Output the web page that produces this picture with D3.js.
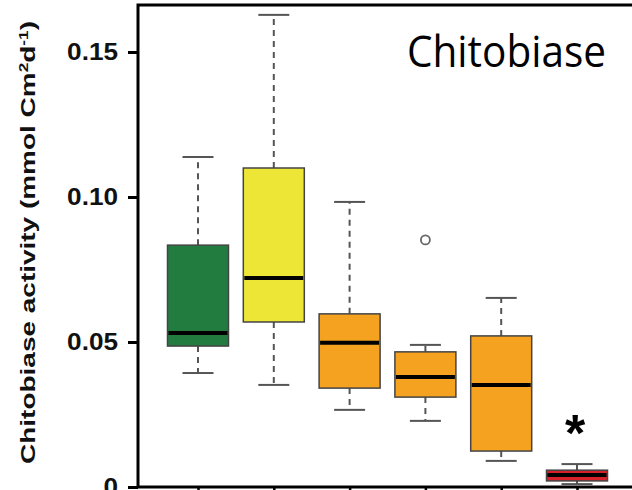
<!DOCTYPE html>
<html>
<head>
<meta charset="utf-8">
<script src="https://cdn.jsdelivr.net/npm/d3@7"></script>
<style>
  body { margin: 0; background: #fff; }
  svg { display: block; }
</style>
</head>
<body>
<svg id="chart" width="632" height="490"></svg>
<script>
// Data (six groups, no x labels shown)
const groups = ['A', 'B', 'C', 'D', 'E', 'F'];
const whiskerLow = [0.0393, 0.0352, 0.0266, 0.0228, 0.0090, 0.0010];
const q1 = [0.0486, 0.0569, 0.0341, 0.0310, 0.0124, 0.0021];
const medians = [0.0531, 0.0721, 0.0497, 0.0379, 0.0352, 0.0041];
const q3 = [0.0834, 0.1100, 0.0597, 0.0466, 0.0521, 0.0058];
const whiskerHigh = [0.1138, 0.1628, 0.0983, 0.0490, 0.0652, 0.0079];
const outliers = [[], [], [], [0.0852], [], []];
const fills = ['#227c3f', '#eee637', '#f5a220', '#f5a220', '#f5a220', '#d8202a'];
const yTicks = [0, 0.05, 0.10, 0.15];

const svg = d3.select('#chart');
const frameLeft = 138, frameRight = 632, frameTop = 5, frameBottom = 487;

const y = d3.scaleLinear().domain([0, 0.15]).range([frameBottom, 52]);
const x = d3.scalePoint().domain(groups).range([198, 577]);
const boxW = 61, capW = 31;

const boxes = groups.map((g, i) => ({
  g, lo: whiskerLow[i], q1: q1[i], med: medians[i], q3: q3[i], hi: whiskerHigh[i],
  out: outliers[i], fill: fills[i]
}));

// frame
svg.append('path')
  .attr('d', `M${frameRight},${frameTop}H${frameLeft}V${frameBottom}H${frameRight}`)
  .attr('fill', 'none')
  .attr('stroke', '#000')
  .attr('stroke-width', 3);

// y axis
const yAxis = svg.append('g')
  .attr('transform', `translate(${frameLeft},0)`)
  .call(d3.axisLeft(y).tickValues(yTicks)
    .tickFormat(d => d === 0 ? '0' : d3.format('.2f')(d))
    .tickSize(10).tickPadding(10));
yAxis.select('.domain').remove();
yAxis.selectAll('.tick line').attr('stroke', '#000').attr('stroke-width', 3);
yAxis.selectAll('.tick text')
  .attr('fill', '#111')
  .style('font', 'bold 24px "Liberation Sans", Arial, sans-serif')
  .each(function () {
    // the source figure is a little stretched sideways
    const w = this.getComputedTextLength();
    d3.select(this).attr('textLength', w * 1.09).attr('lengthAdjust', 'spacingAndGlyphs');
  });

// x ticks (no labels)
const xAxis = svg.append('g')
  .attr('transform', `translate(0,${frameBottom})`)
  .call(d3.axisBottom(x).tickSize(6).tickFormat(''));
xAxis.select('.domain').remove();
xAxis.selectAll('.tick line').attr('stroke', '#000').attr('stroke-width', 2.5);

// y label
const yLabelG = svg.append('g');
const yLabel = yLabelG.append('text')
  .attr('text-anchor', 'middle')
  .attr('fill', '#111')
  .style('font', 'bold 19.5px "Liberation Sans", Arial, sans-serif');
yLabel.append('tspan').text('Chitobiase activity (mmol Cm');
yLabel.append('tspan').attr('dy', -7).style('font-size', '12px').text('2');
yLabel.append('tspan').attr('dy', 7).text('d');
yLabel.append('tspan').attr('dy', -7).style('font-size', '12px').text('-1');
yLabel.append('tspan').attr('dy', 7).text(')');
const labelW = yLabel.node().getBBox().width;
yLabelG.attr('transform', `translate(35,242.5) rotate(-90) scale(${443 / labelW},1)`);

// boxes
const bx = svg.append('g').selectAll('g').data(boxes).join('g')
  .attr('transform', d => `translate(${x(d.g)},0)`);

bx.append('line')
  .attr('y1', d => y(d.q3)).attr('y2', d => y(d.hi))
  .attr('stroke', '#555').attr('stroke-width', 2).attr('stroke-dasharray', '6,5');
bx.append('line')
  .attr('y1', d => y(d.q1)).attr('y2', d => y(d.lo))
  .attr('stroke', '#555').attr('stroke-width', 2).attr('stroke-dasharray', '6,5');
bx.append('line')
  .attr('x1', -capW / 2).attr('x2', capW / 2)
  .attr('y1', d => y(d.hi)).attr('y2', d => y(d.hi))
  .attr('stroke', '#555').attr('stroke-width', 2);
bx.append('line')
  .attr('x1', -capW / 2).attr('x2', capW / 2)
  .attr('y1', d => y(d.lo)).attr('y2', d => y(d.lo))
  .attr('stroke', '#555').attr('stroke-width', 2);
bx.append('rect')
  .attr('x', -boxW / 2).attr('width', boxW)
  .attr('y', d => y(d.q3)).attr('height', d => y(d.q1) - y(d.q3))
  .attr('fill', d => d.fill)
  .attr('stroke', '#444').attr('stroke-width', 1.5);
bx.append('line')
  .attr('x1', -boxW / 2 + 1).attr('x2', boxW / 2 - 1)
  .attr('y1', d => y(d.med)).attr('y2', d => y(d.med))
  .attr('stroke', '#000').attr('stroke-width', 4);
bx.selectAll('circle').data(d => d.out).join('circle')
  .attr('r', 4.5).attr('cy', d => y(d))
  .attr('fill', 'none').attr('stroke', '#666').attr('stroke-width', 1.8);

// significance star, centred over the last box
const star = svg.append('text')
  .attr('text-anchor', 'middle')
  .attr('fill', '#000')
  .style('font', 'bold 52px "Liberation Sans", Arial, sans-serif')
  .text('*');
star.attr('x', x('F') - 2).attr('y', 0);
const sb = star.node().getBBox();
// ink of the asterisk sits near the top of its box
star.attr('y', 411 - (sb.y + sb.height * 0.12));

// panel title
svg.append('text')
  .attr('x', 407).attr('y', 67)
  .attr('textLength', 199).attr('lengthAdjust', 'spacingAndGlyphs')
  .attr('fill', '#000')
  .style('font', '44px "Open Sans", "Liberation Sans", sans-serif')
  .text('Chitobiase');
</script>
</body>
</html>
